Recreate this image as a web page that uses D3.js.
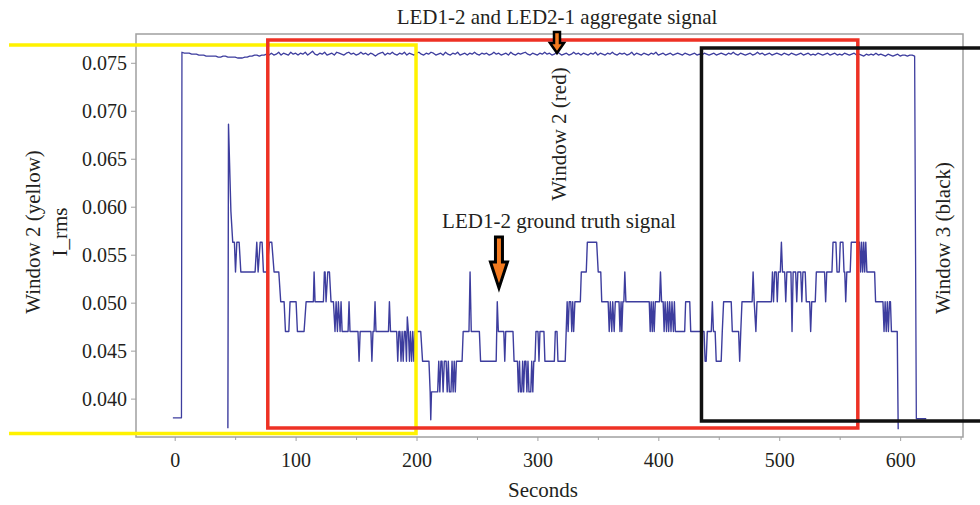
<!DOCTYPE html>
<html>
<head>
<meta charset="utf-8">
<script src="https://cdn.jsdelivr.net/npm/d3@7"></script>
<style>
  body { margin: 0; background: #fff; }
  svg { display: block; }
</style>
</head>
<body>
<svg id="chart" width="980" height="505"></svg>
<script>
// tick values
var xTicks = [0, 100, 200, 300, 400, 500, 600];
var xMinorTicks = [50, 150, 250, 350, 450, 550, 650];
var yTicks = [0.040, 0.045, 0.050, 0.055, 0.060, 0.065, 0.070, 0.075];

// aggregate signal (LED1-2 + LED2-1), one reading every 2 s from t = 6 s
var aggStart = 6, aggStep = 2;
var aggIrms = [
  .0761,.0760,.0760,.0760,.0759,.0759,.0759,.0758,.0758,.0758,.0757,.0757,.0757,.0757,.0757,.0756,.0756,.0757,.0757,.0756,.0756,.0756,.0756,.0755,.0755,.0755,.0756,.0756,.0757,.0757,
  .0758,.0758,.0757,.0758,.0758,.0759,.0758,.0760,.0758,.0759,.0761,.0758,.0760,.0759,.0758,.0761,.0759,.0760,.0758,.0760,
  .0759,.0761,.0758,.0760,.0762,.0759,.0758,.0760,.0759,.0761,.0758,.0759,.0760,.0758,.0761,.0760,.0759,.0758,.0760,.0761,
  .0759,.0760,.0758,.0759,.0761,.0759,.0760,.0758,.0760,.0759,.0757,.0759,.0760,.0761,.0758,.0760,.0759,.0761,.0759,.0758,
  .0760,.0759,.0761,.0758,.0760,.0759,.0758,.0760,.0761,.0759,.0758,.0760,.0759,.0761,.0760,.0758,.0759,.0760,.0758,.0761,
  .0759,.0758,.0760,.0759,.0761,.0758,.0759,.0760,.0758,.0760,.0759,.0761,.0759,.0758,.0760,.0759,.0760,.0758,.0759,.0761,
  .0759,.0760,.0758,.0759,.0760,.0758,.0761,.0759,.0758,.0760,.0759,.0760,.0761,.0759,.0758,.0760,.0759,.0758,.0760,.0759,
  .0761,.0759,.0760,.0758,.0759,.0761,.0760,.0758,.0759,.0760,.0758,.0759,.0761,.0759,.0760,.0758,.0760,.0759,.0758,.0760,
  .0759,.0761,.0758,.0760,.0759,.0758,.0760,.0759,.0761,.0759,.0758,.0760,.0759,.0760,.0758,.0759,.0761,.0758,.0760,.0759,
  .0758,.0760,.0759,.0758,.0760,.0759,.0761,.0758,.0759,.0760,.0758,.0759,.0760,.0758,.0759,.0760,.0759,.0758,.0760,.0759,
  .0758,.0759,.0760,.0758,.0759,.0758,.0760,.0759,.0758,.0759,.0760,.0758,.0759,.0760,.0759,.0758,.0760,.0759,.0761,.0759,
  .0758,.0760,.0759,.0758,.0759,.0760,.0758,.0759,.0761,.0759,.0760,.0758,.0759,.0760,.0758,.0759,.0760,.0759,.0758,.0760,
  .0759,.0758,.0760,.0759,.0758,.0759,.0760,.0758,.0759,.0760,.0758,.0759,.0758,.0760,.0759,.0758,.0759,.0760,.0758,.0759,
  .0760,.0758,.0759,.0758,.0760,.0759,.0758,.0759,.0760,.0758,.0759,.0758,.0757,.0759,.0758,.0759,.0758,.0760,.0758,.0759,
  .0758,.0757,.0759,.0758,.0757,.0758,.0759,.0757,.0758,.0758,.0757,.0758,.0758,.0757
];
var aggHead = [[-1.5, 0.0380], [5.6, 0.0380]];
var aggTail = [[613.4, 0.0379], [621.6, 0.0379]];

// LED1-2 ground truth signal, [seconds, I_rms]
var gtPoints = [
  [44.0,.0369],[44.5,.0686],[46.5,.0595],[48.0,.0563],[49.4,.0563],[50.3,.0532],[51.4,.0563],[53.3,.0563],
  [54.7,.0532],[66.5,.0532],[67.9,.0563],[69.0,.0532],[70.7,.0563],[72.3,.0563],[73.4,.0532],[76.2,.0532],
  [78.4,.0563],[80.3,.0563],[82.2,.0532],[86.1,.0532],[87.7,.0501],[90.5,.0501],[91.6,.0470],[94.4,.0470],
  [95.4,.0501],[100.4,.0501],[101.5,.0470],[107.0,.0470],[108.7,.0501],[114.7,.0501],[115.3,.0532],[116.1,.0501],
  [123.0,.0501],[123.8,.0532],[124.4,.0532],[125.2,.0501],[126.6,.0532],[128.0,.0532],[129.3,.0501],[131.3,.0501],
  [132.6,.0470],[133.5,.0501],[134.6,.0470],[135.4,.0501],[136.8,.0470],[137.6,.0501],[138.5,.0470],[143.4,.0470],
  [144.2,.0501],[145.0,.0470],[151.6,.0470],[152.5,.0439],[153.4,.0470],[162.3,.0470],[163.1,.0439],[164.0,.0470],
  [164.9,.0470],[165.7,.0501],[166.5,.0470],[176.8,.0470],[177.6,.0501],[178.5,.0470],[183.6,.0470],[184.5,.0439],
  [185.4,.0470],[186.3,.0470],[187.2,.0439],[188.1,.0470],[189.0,.0439],[189.9,.0470],[190.8,.0470],[191.7,.0439],
  [192.4,.0485],[193.3,.0470],[194.2,.0439],[195.0,.0470],[196.0,.0439],[196.9,.0470],[197.8,.0439],[198.6,.0470],
  [203.5,.0470],[205.0,.0439],[210.3,.0439],[211.3,.0407],[211.8,.0378],[212.4,.0407],[217.5,.0407],[218.4,.0439],
  [219.3,.0407],[220.2,.0439],[221.1,.0439],[222.0,.0407],[223.0,.0439],[224.5,.0439],[225.4,.0407],[226.3,.0439],
  [227.2,.0407],[228.5,.0407],[229.4,.0439],[230.3,.0407],[231.2,.0439],[232.1,.0407],[233.0,.0439],[237.7,.0439],
  [238.6,.0470],[243.4,.0470],[244.3,.0532],[245.3,.0470],[252.0,.0470],[253.0,.0439],[265.9,.0439],[266.8,.0501],
  [267.7,.0470],[272.2,.0470],[273.0,.0439],[273.8,.0470],[279.8,.0470],[280.7,.0439],[283.5,.0439],[284.3,.0407],
  [285.2,.0439],[286.0,.0407],[287.0,.0407],[287.8,.0439],[288.6,.0407],[289.5,.0439],[290.5,.0439],[291.3,.0407],
  [292.2,.0439],[293.0,.0407],[294.5,.0407],[295.3,.0439],[296.2,.0407],[297.0,.0439],[298.0,.0439],[298.8,.0470],
  [300.5,.0470],[301.3,.0439],[302.1,.0470],[305.4,.0470],[306.2,.0439],[314.0,.0439],[314.8,.0470],[316.2,.0470],
  [317.0,.0439],[323.0,.0439],[323.8,.0470],[324.6,.0501],[325.4,.0470],[326.3,.0501],[327.6,.0501],[328.4,.0470],
  [329.2,.0501],[330.0,.0470],[331.0,.0501],[335.5,.0501],[336.3,.0532],[340.4,.0532],[341.3,.0563],[349.0,.0563],
  [350.3,.0532],[352.4,.0532],[353.2,.0501],[358.5,.0501],[359.4,.0470],[360.3,.0501],[361.5,.0470],[362.3,.0501],
  [363.5,.0470],[364.4,.0501],[367.5,.0501],[368.3,.0470],[369.2,.0501],[369.8,.0470],[370.7,.0501],[371.5,.0501],
  [372.3,.0532],[373.2,.0501],[392.5,.0501],[393.3,.0470],[394.1,.0501],[395.0,.0470],[395.8,.0501],[396.6,.0470],
  [397.5,.0501],[401.0,.0501],[401.8,.0532],[402.7,.0501],[404.0,.0501],[404.8,.0470],[405.6,.0501],[406.8,.0470],
  [407.6,.0501],[408.6,.0470],[409.4,.0501],[410.5,.0470],[411.3,.0501],[412.5,.0470],[413.3,.0501],[414.1,.0470],
  [421.8,.0470],[422.6,.0501],[426.0,.0501],[426.8,.0470],[437.8,.0470],[438.7,.0439],[439.6,.0439],[440.5,.0470],
  [443.8,.0470],[444.7,.0501],[445.6,.0470],[447.0,.0470],[447.9,.0439],[452.0,.0439],[452.9,.0470],[454.0,.0501],
  [460.3,.0501],[461.2,.0470],[466.4,.0470],[467.3,.0439],[468.2,.0470],[469.2,.0501],[477.6,.0501],[478.4,.0532],
  [479.3,.0501],[480.7,.0470],[481.6,.0501],[493.5,.0501],[494.4,.0532],[495.3,.0501],[496.2,.0532],[497.5,.0532],
  [498.4,.0501],[499.3,.0532],[500.9,.0532],[501.8,.0563],[502.7,.0532],[504.5,.0532],[505.4,.0501],[506.3,.0532],
  [509.7,.0532],[510.6,.0470],[511.5,.0532],[513.6,.0532],[514.5,.0501],[515.4,.0532],[517.8,.0532],[518.7,.0501],
  [519.6,.0532],[521.5,.0532],[522.4,.0501],[525.2,.0501],[526.0,.0470],[526.9,.0501],[529.8,.0501],[530.7,.0532],
  [537.5,.0532],[538.4,.0501],[539.3,.0532],[543.6,.0532],[544.5,.0563],[546.9,.0563],[547.8,.0532],[549.6,.0532],
  [550.5,.0563],[552.7,.0563],[553.6,.0532],[554.2,.0532],[555.0,.0501],[555.9,.0532],[558.7,.0532],[559.6,.0563],
  [566.5,.0563],[567.3,.0532],[568.2,.0563],[569.0,.0532],[569.9,.0563],[570.7,.0532],[571.6,.0563],[572.5,.0532],
  [578.9,.0532],[579.7,.0501],[585.8,.0501],[586.7,.0470],[587.6,.0501],[588.5,.0470],[589.4,.0501],[590.3,.0470],
  [591.2,.0501],[592.0,.0501],[592.8,.0470],[597.6,.0470],[598.4,.0368]
];

// highlighted windows (seconds / I_rms)
var winNames  = ["yellow", "red", "black"];
var winStart  = [-137, 77, 435.7];
var winEnd    = [199.6, 565, 720];
var winTop    = [0.07685, 0.07738, 0.07654];
var winBottom = [0.03636, 0.03694, 0.03767];

var svg = d3.select("#chart"),
    margin = {top: 34, right: 17, bottom: 68, left: 136},
    width = +svg.attr("width") - margin.left - margin.right,
    height = +svg.attr("height") - margin.top - margin.bottom;

var font = "'Liberation Serif', 'Times New Roman', serif",
    textCol = "#231f20",
    frameCol = "#a0a0a0";

var x = d3.scaleLinear().domain([-32, 652]).range([margin.left, margin.left + width]);
var y = d3.scaleLinear().domain([0.036, 0.078]).range([margin.top + height, margin.top]);

// frame
svg.append("rect")
    .attr("x", margin.left).attr("y", margin.top)
    .attr("width", width).attr("height", height)
    .attr("fill", "none").attr("stroke", frameCol).attr("stroke-width", 1.5);

// axes
var yAxis = d3.axisLeft(y).tickValues(yTicks).tickFormat(d3.format(".3f")).tickSize(5).tickPadding(4);
var xAxis = d3.axisBottom(x).tickValues(xTicks).tickFormat(d3.format("d")).tickSize(4).tickPadding(12);
var xMinor = d3.axisBottom(x).tickValues(xMinorTicks).tickFormat("").tickSize(3);

function styleAxis(g) {
  g.select(".domain").remove();
  g.selectAll(".tick line").attr("stroke", frameCol).attr("stroke-width", 1);
  g.selectAll(".tick text").attr("fill", textCol).attr("font-family", font).attr("font-size", 20);
}

svg.append("g").attr("transform", "translate(" + margin.left + ",0)").call(yAxis).call(styleAxis);
svg.append("g").attr("transform", "translate(0," + (margin.top + height) + ")").call(xAxis).call(styleAxis);
svg.append("g").attr("transform", "translate(0," + (margin.top + height) + ")").call(xMinor).call(styleAxis);

// signals
var line = d3.line()
    .x(function(d) { return x(d[0]); })
    .y(function(d) { return y(d[1]); });

var aggPoints = aggHead
    .concat(aggIrms.map(function(v, i) { return [aggStart + i * aggStep, v]; }))
    .concat(aggTail);

svg.append("path").datum(aggPoints)
    .attr("fill", "none").attr("stroke", "#3d3d9e").attr("stroke-width", 1.3)
    .attr("stroke-linejoin", "round").attr("d", line);

svg.append("path").datum(gtPoints)
    .attr("fill", "none").attr("stroke", "#3d3d9e").attr("stroke-width", 1.4)
    .attr("stroke-linejoin", "round").attr("d", line);

// windows
var winCols = {yellow: "#fff200", red: "#ee3124", black: "#111"};
winNames.forEach(function(n, i) {
  var x0 = x(winStart[i]), x1 = x(winEnd[i]), y0 = y(winTop[i]), y1 = y(winBottom[i]), d;
  if (n == "yellow") d = "M" + x0 + "," + y0 + "H" + x1 + "V" + y1 + "H" + x0;
  else if (n == "black") d = "M" + x1 + "," + y0 + "H" + x0 + "V" + y1 + "H" + x1;
  else d = "M" + x0 + "," + y0 + "H" + x1 + "V" + y1 + "H" + x0 + "Z";
  svg.append("path").attr("d", d).attr("fill", "none")
      .attr("stroke", winCols[n]).attr("stroke-width", 3.5);
});

// arrows
function arrow(cx, tip, len, shaftW, headW, headLen, sw) {
  var top = tip - len, hb = tip - headLen;
  var pts = [[cx - shaftW / 2, top], [cx + shaftW / 2, top], [cx + shaftW / 2, hb], [cx + headW / 2, hb],
             [cx, tip], [cx - headW / 2, hb], [cx - shaftW / 2, hb]];
  svg.append("polygon").attr("points", pts.map(function(p) { return p.join(","); }).join(" "))
      .attr("fill", "#f47b20").attr("stroke", "#000").attr("stroke-width", sw)
      .attr("stroke-linejoin", "miter");
}
arrow(x(316.2), y(0.07602), 21, 6, 14, 10, 2.5);
arrow(x(268.2), y(0.05153), 51, 7, 17, 26, 3);

// text
function label(txt, px, py, rot) {
  svg.append("text").attr("transform", "translate(" + px + "," + py + ")" + (rot ? " rotate(-90)" : ""))
      .attr("text-anchor", "middle").attr("font-family", font).attr("font-size", 21)
      .attr("fill", textCol).text(txt);
}
label("LED1-2 and LED2-1 aggregate signal", 557, 24);
label("LED1-2 ground truth signal", 559, 228);
label("Window 2 (red)", 566, 134, true);
label("Window 2 (yellow)", 40, 232, true);
label("I_rms", 67, 232, true);
label("Window 3 (black)", 950, 238, true);
label("Seconds", 543, 497);
</script>
</body>
</html>
